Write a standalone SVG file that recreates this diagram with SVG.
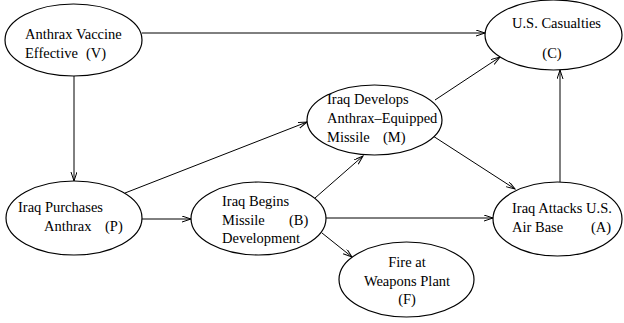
<svg xmlns="http://www.w3.org/2000/svg" width="624" height="323" viewBox="0 0 624 323">
<defs>
<marker id="arr" markerWidth="10" markerHeight="8" refX="9" refY="3" orient="auto" markerUnits="userSpaceOnUse">
<path d="M0,0 L9,3 L0,6" fill="none" stroke="#000" stroke-width="1"/>
</marker>
<style>
ellipse{fill:#fff;stroke:#000;stroke-width:1.2}
text{font-family:"Liberation Serif","Times New Roman",serif;font-size:14.5px;fill:#000}
.c line{stroke:#000;stroke-width:1;marker-end:url(#arr)}
</style>
</defs>
<rect width="624" height="323" fill="#fff"/>
<g class="c" id="connectors">
<line x1="142" y1="33" x2="485" y2="33"/>
<line x1="74" y1="76" x2="74" y2="181"/>
<line x1="125" y1="193" x2="307" y2="122"/>
<line x1="142" y1="219" x2="191" y2="219"/>
<line x1="315" y1="198" x2="363" y2="156"/>
<line x1="326" y1="218" x2="493" y2="218"/>
<line x1="322" y1="233" x2="352" y2="257"/>
<line x1="435" y1="100" x2="500" y2="57"/>
<line x1="433" y1="136" x2="515" y2="189"/>
<line x1="560" y1="182" x2="560" y2="70"/>
</g>
<g id="V">
<ellipse cx="73.5" cy="40" rx="68.5" ry="36"/>
<text x="25" y="39">Anthrax Vaccine</text>
<text x="25" y="58">Effective</text>
<text x="86" y="58">(V)</text>
</g>
<g id="C">
<ellipse cx="553.5" cy="35" rx="68.5" ry="35"/>
<text x="512" y="28">U.S. Casualties</text>
<text x="552" y="58" text-anchor="middle">(C)</text>
</g>
<g id="M">
<ellipse cx="374.5" cy="120" rx="67.5" ry="35"/>
<text x="327" y="104">Iraq Develops</text>
<text x="327" y="123">Anthrax–Equipped</text>
<text x="327" y="142">Missile</text>
<text x="383" y="142">(M)</text>
</g>
<g id="P">
<ellipse cx="74" cy="218" rx="68" ry="37"/>
<text x="18" y="212">Iraq Purchases</text>
<text x="44" y="231">Anthrax</text>
<text x="105" y="231">(P)</text>
</g>
<g id="B">
<ellipse cx="258.5" cy="218.5" rx="67.5" ry="36.5"/>
<text x="222" y="206">Iraq Begins</text>
<text x="222" y="225">Missile</text>
<text x="289" y="225">(B)</text>
<text x="222" y="243">Development</text>
</g>
<g id="A">
<ellipse cx="557.5" cy="219" rx="64.5" ry="37"/>
<text x="512" y="213">Iraq Attacks U.S.</text>
<text x="512" y="232">Air Base</text>
<text x="591" y="232">(A)</text>
</g>
<g id="F">
<ellipse cx="406.5" cy="279.5" rx="67.5" ry="37.5"/>
<text x="407" y="267" text-anchor="middle">Fire at</text>
<text x="407" y="286" text-anchor="middle">Weapons Plant</text>
<text x="407" y="304" text-anchor="middle">(F)</text>
</g>
</svg>
